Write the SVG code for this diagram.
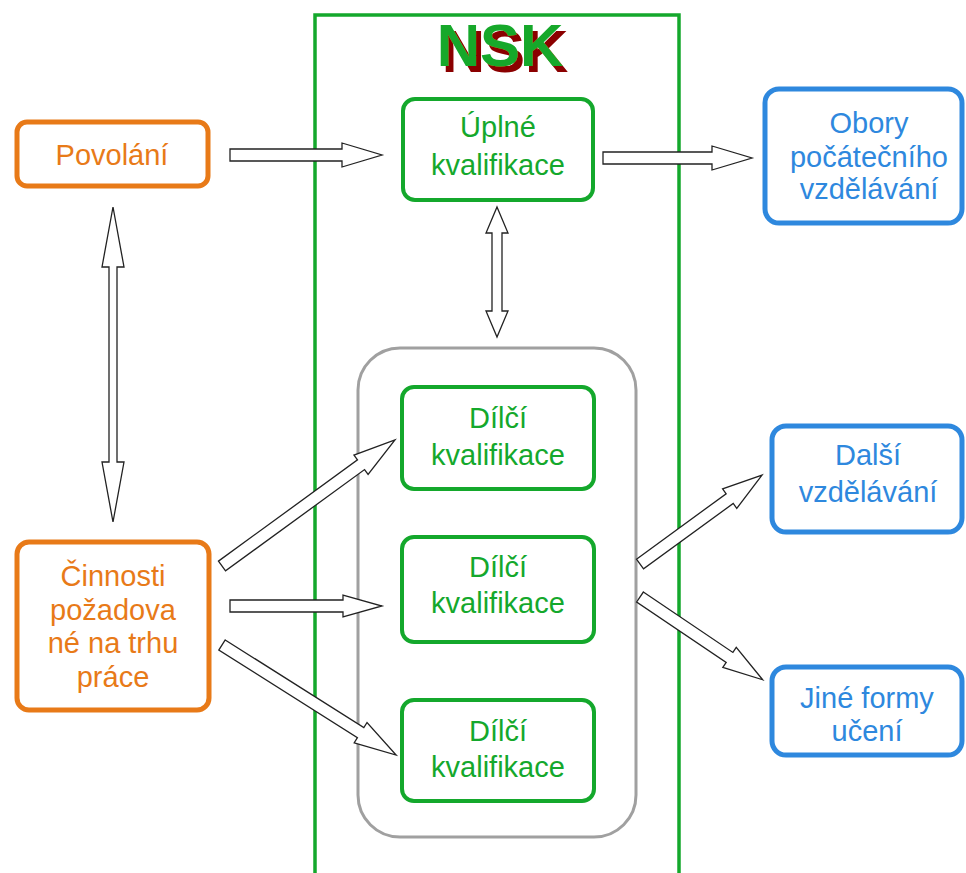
<svg xmlns="http://www.w3.org/2000/svg" width="966" height="873" viewBox="0 0 966 873">
<defs>
<filter id="sh" x="-10%" y="-20%" width="130%" height="150%">
<feOffset in="SourceAlpha" dx="5" dy="6" result="o"/>
<feFlood flood-color="#8B0000"/>
<feComposite in2="o" operator="in" result="s"/>
<feMerge><feMergeNode in="s"/><feMergeNode in="SourceGraphic"/></feMerge>
</filter>
</defs>
<style>
.t{font-family:"Liberation Sans",Arial,sans-serif;font-size:29px;text-anchor:middle}
.or{fill:#E87A18}.gr{fill:#14A82C}.bl{fill:#2E88DE}
.bo{fill:#fff;stroke:#E87A18;stroke-width:5}
.bg{fill:#fff;stroke:#14A82C;stroke-width:4}
.bb{fill:#fff;stroke:#2E88DE;stroke-width:5}
.ar{fill:#fff;stroke:#222;stroke-width:1.3;stroke-linejoin:miter}
</style>
<rect width="966" height="873" fill="#fff"/>
<g id="nsk">
<rect x="315" y="15" width="364" height="880" fill="none" stroke="#14A82C" stroke-width="3.5"/>
<text x="500" y="66" filter="url(#sh)" style="font-family:'Liberation Sans',Arial,sans-serif;font-size:60px;font-weight:bold;text-anchor:middle" fill="#14A82C">NSK</text>
</g>
<g id="group-dilci">
<rect x="358" y="348" width="278" height="489" rx="42" fill="none" stroke="#A0A0A0" stroke-width="3"/>
</g>
<g id="povolani">
<rect class="bo" x="17" y="122" width="191" height="64" rx="10"/>
<text class="t or" x="112" y="165">Povolání</text>
</g>
<g id="cinnosti">
<rect class="bo" x="17" y="542" width="192" height="168" rx="12"/>
<text class="t or" x="113" y="586">Činnosti</text>
<text class="t or" x="113" y="620">požadova</text>
<text class="t or" x="113" y="653">né na trhu</text>
<text class="t or" x="113" y="687">práce</text>
</g>
<g id="uplne">
<rect class="bg" x="403" y="99" width="190" height="101" rx="12"/>
<text class="t gr" x="498" y="137">Úplné</text>
<text class="t gr" x="498" y="175">kvalifikace</text>
</g>
<g id="dilci1">
<rect class="bg" x="402" y="387" width="192" height="102" rx="12"/>
<text class="t gr" x="498" y="428">Dílčí</text>
<text class="t gr" x="498" y="465">kvalifikace</text>
</g>
<g id="dilci2">
<rect class="bg" x="402" y="537" width="192" height="105" rx="12"/>
<text class="t gr" x="498" y="577">Dílčí</text>
<text class="t gr" x="498" y="613">kvalifikace</text>
</g>
<g id="dilci3">
<rect class="bg" x="402" y="700" width="192" height="101" rx="12"/>
<text class="t gr" x="498" y="741">Dílčí</text>
<text class="t gr" x="498" y="777">kvalifikace</text>
</g>
<g id="obory">
<rect class="bb" x="765" y="89" width="197" height="134" rx="14"/>
<text class="t bl" x="869" y="133">Obory</text>
<text class="t bl" x="869" y="167">počátečního</text>
<text class="t bl" x="869" y="199">vzdělávání</text>
</g>
<g id="dalsi">
<rect class="bb" x="772" y="426" width="190" height="106" rx="14"/>
<text class="t bl" x="868" y="465">Další</text>
<text class="t bl" x="868" y="502">vzdělávání</text>
</g>
<g id="jine">
<rect class="bb" x="772" y="667" width="190" height="88" rx="14"/>
<text class="t bl" x="867" y="708">Jiné formy</text>
<text class="t bl" x="867" y="741">učení</text>
</g>
<g id="connectors">
<path class="ar" transform="translate(230,155)" d="M0,-6 L112,-6 L112,-12 L152,0 L112,12 L112,6 L0,6 Z"/>
<path class="ar" transform="translate(603,158)" d="M0,-6 L109,-6 L109,-12 L149,0 L109,12 L109,6 L0,6 Z"/>
<path class="ar" transform="translate(113,207) rotate(90)" d="M0,0 L60,-11 L60,-4 L255,-4 L255,-11 L315,0 L255,11 L255,4 L60,4 L60,11 Z"/>
<path class="ar" transform="translate(497,207) rotate(90)" d="M0,0 L26,-11 L26,-5 L104,-5 L104,-11 L130,0 L104,11 L104,5 L26,5 L26,11 Z"/>
<path class="ar" transform="translate(222,566) rotate(-36.07)" d="M0,-6 L172,-6 L172,-12 L214,0 L172,12 L172,6 L0,6 Z"/>
<path class="ar" transform="translate(230,606)" d="M0,-6 L113,-6 L113,-11 L152,0 L113,11 L113,6 L0,6 Z"/>
<path class="ar" transform="translate(222,645) rotate(32.3)" d="M0,-6 L164,-6 L164,-12 L206,0 L164,12 L164,6 L0,6 Z"/>
<path class="ar" transform="translate(640,564) rotate(-36.1)" d="M0,-6 L111,-6 L111,-12 L151,0 L111,12 L111,6 L0,6 Z"/>
<path class="ar" transform="translate(640,597) rotate(34)" d="M0,-6 L108,-6 L108,-12 L148,0 L108,12 L108,6 L0,6 Z"/>
</g>
</svg>
